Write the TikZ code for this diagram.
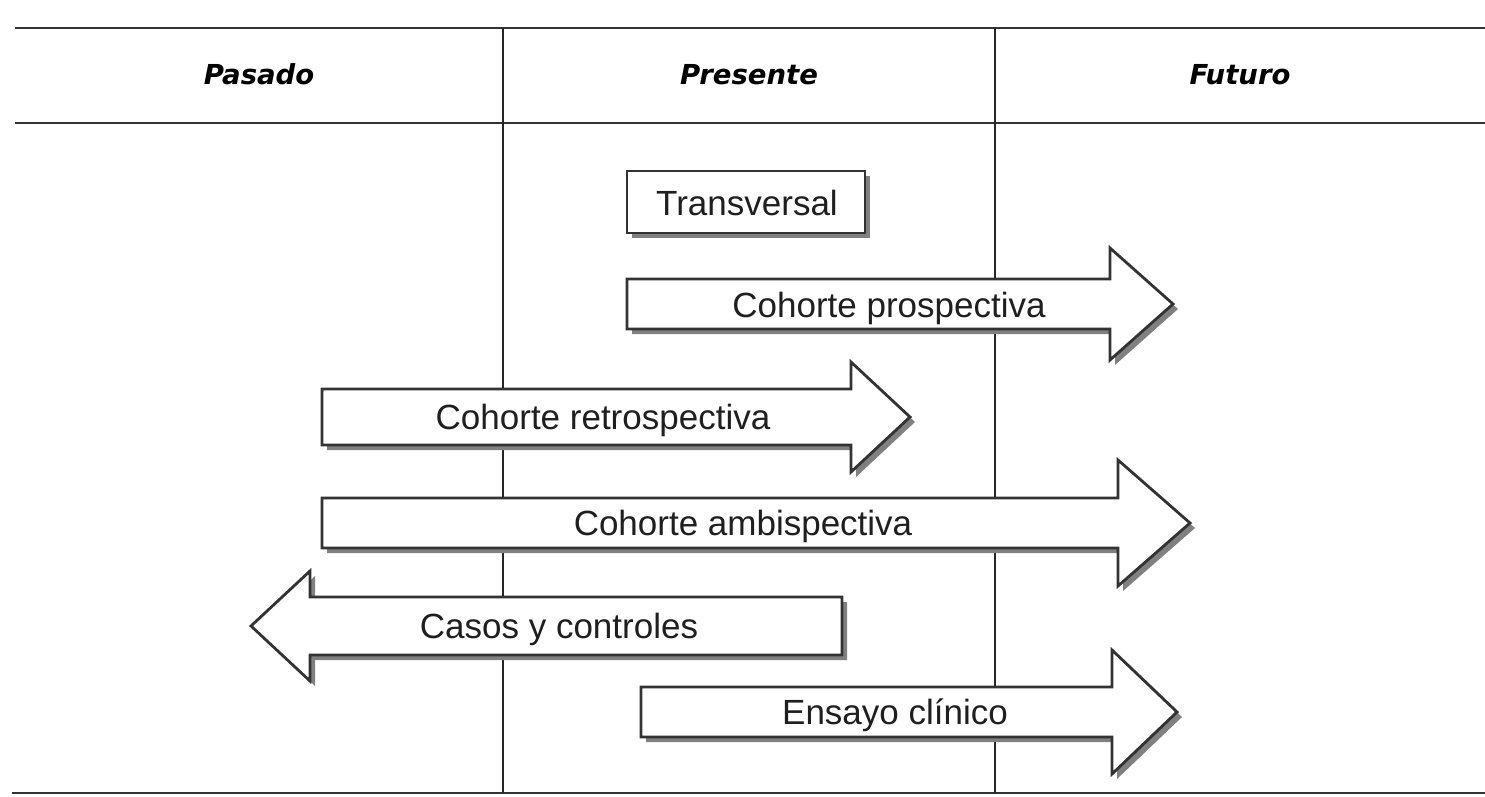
\documentclass[tikz,border=0pt]{standalone}
\usepackage{fontspec}
\setmainfont{Liberation Sans}
\newfontfamily\verdanita{DejaVu Sans}
\usetikzlibrary{shadows}

\tikzset{
  linea/.style={draw=black!80, line width=2.5pt},
  divisor/.style={draw=black!85, line width=2pt},
  caja/.style={draw=black!80, line width=2.8pt, fill=white,
    drop shadow={shadow xshift=5pt, shadow yshift=-5pt, fill=black!50, opacity=1}},
  etiqueta/.style={font=\fontsize{35}{40}\selectfont, text=black!88,
    text height=25pt, text depth=0pt, inner sep=0pt},
  titulo/.style={font=\verdanita\bfseries\itshape\fontsize{27.5}{33}\selectfont,
    text height=20pt, text depth=0pt, inner sep=0pt},
}

\begin{document}
\begin{tikzpicture}[x=1pt,y=-1pt]

  \useasboundingbox (0,0) rectangle (1485,797);

  %% #1 cola, #2 base de la punta, #3 punta, #4 centro y, #5 medio cuerpo, #6 media punta
  \newcommand\flecha[6]{%
    \draw[caja] (#1,#4-#5) -- (#2,#4-#5) -- (#2,#4-#6) -- (#3,#4)
      -- (#2,#4+#6) -- (#2,#4+#5) -- (#1,#4+#5) -- cycle;}

  \draw[linea] (15,28) -- (1485,28);
  \draw[linea] (15,123) -- (1485,123);
  \draw[linea] (12,793) -- (1485,793);
  \draw[divisor] (503,28) -- (503,793);
  \draw[divisor] (995,28) -- (995,793);

  \node[titulo] (pasado) at (259,75) {Pasado};
  \node[titulo] (presente) at (749,75) {Presente};
  \node[titulo] (futuro) at (1240,75) {Futuro};

  \draw[caja] (627,171) rectangle (865,233); %% transversal
  \flecha{627}{1110}{1173}{304}{25}{56}     %% prospectiva
  \flecha{322}{851}{910}{417}{28}{55}       %% retrospectiva
  \flecha{322}{1118}{1190}{523}{25}{63}     %% ambispectiva
  \flecha{842}{310}{251}{626}{29}{55}       %% casos y controles
  \flecha{641}{1112}{1177}{712}{25}{62}     %% ensayo

  \node[etiqueta] (transversal) at (747,203) {Transversal};
  \node[etiqueta] (prospectiva) at (889,305) {Cohorte prospectiva};
  \node[etiqueta] (retrospectiva) at (603,417) {Cohorte retrospectiva};
  \node[etiqueta] (ambispectiva) at (743,523) {Cohorte ambispectiva};
  \node[etiqueta] (casos) at (559,626) {Casos y controles};
  \node[etiqueta] (ensayo) at (895,712) {Ensayo clínico};

\end{tikzpicture}
\end{document}
